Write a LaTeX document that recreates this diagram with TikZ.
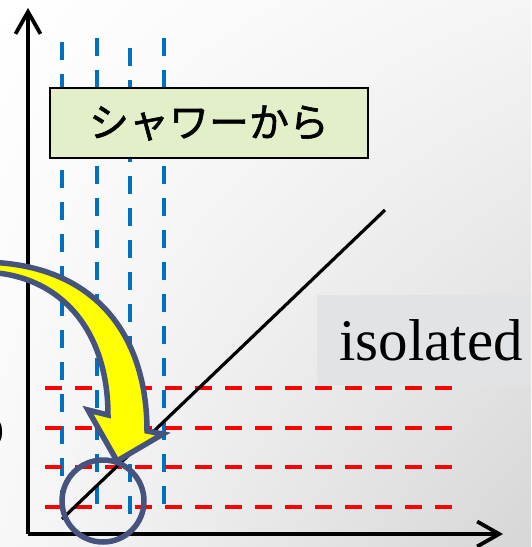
\documentclass[tikz,border=0pt]{standalone}
\usepackage{fontspec}
\setmainfont{Liberation Serif}
\newfontfamily\jpfont[BoldFont={Noto Sans CJK JP},BoldFeatures={FakeBold=1.5}]{Noto Sans CJK JP}
\usetikzlibrary{arrows.meta,shadings}
\definecolor{rainblue}{RGB}{0,112,192}
\definecolor{hotred}{RGB}{255,0,0}
\definecolor{boxgreen}{RGB}{226,239,201}
\definecolor{slateline}{RGB}{68,84,126}
\definecolor{labelgray}{RGB}{225,228,230}
\definecolor{arrowyellow}{RGB}{255,255,0}
\begin{document}
\begin{tikzpicture}[x=1pt,y=-1pt,
  bluedash/.style={rainblue,line width=4.5pt,dash pattern=on 18pt off 14pt},
  reddash/.style={hotred,line width=4.5pt,dash pattern=on 17pt off 13pt},
  axisline/.style={black,line width=3.8pt,-{Straight Barb[length=22pt,width=25pt]}},
  showerbox/.style={draw=black,line width=1.2pt,fill=boxgreen,minimum width=318pt,minimum height=70pt,inner sep=0pt},
  labelbox/.style={fill=labelgray,minimum width=230pt,minimum height=90pt,inner sep=0pt,anchor=north west},
  slateoutline/.style={draw=slateline,line width=5.5pt}]
\useasboundingbox (0,0) rectangle (531,547);
\begin{scope}
\clip (0,0) rectangle (531,547);
\shade[upper left=white,upper right=black!4,lower left=black!3,lower right=black!16] (0,0) rectangle (531,547);
% blue dashed verticals
\coordinate (b1t) at (62,42);  \coordinate (b1b) at (62,515);
\coordinate (b2t) at (97,38);  \coordinate (b2b) at (97,515);
\coordinate (b3t) at (130,48); \coordinate (b3b) at (130,520);
\coordinate (b4t) at (164,38); \coordinate (b4b) at (164,515);
\draw[bluedash] (b1t) -- (b1b);
\draw[bluedash] (b2t) -- (b2b);
\draw[bluedash] (b3t) -- (b3b);
\draw[bluedash] (b4t) -- (b4b);
% red dashed horizontals
\coordinate (r1l) at (45,388); \coordinate (r1r) at (455,388);
\coordinate (r2l) at (45,428); \coordinate (r2r) at (455,428);
\coordinate (r3l) at (45,467); \coordinate (r3r) at (455,467);
\coordinate (r4l) at (45,507); \coordinate (r4r) at (455,507);
\draw[reddash] (r1l) -- (r1r);
\draw[reddash] (r2l) -- (r2r);
\draw[reddash] (r3l) -- (r3r);
\draw[reddash] (r4l) -- (r4r);
% boxes
\node[showerbox] (shower) at (209,123) {\jpfont\bfseries\fontsize{40}{44}\selectfont シャワーから};
\node[labelbox] (iso) at (317,295) {};
\node[anchor=base west,inner sep=0pt] (isotext) at (339,360) {\fontsize{59}{62}\selectfont isolated};
% axes
\coordinate (origin) at (28,534);
\coordinate (ytip) at (28,8);
\coordinate (xtip) at (503,534);
\draw[axisline] (origin) -- (ytip);
\draw[axisline] (origin) -- (xtip);
% diagonal
\coordinate (d1) at (62,519);
\coordinate (d2) at (385,210);
\draw[black,line width=3.2pt] (d1) -- (d2);
% cut-off text fragment
\node[anchor=east,inner sep=0pt] (frag) at (4,432) {\fontsize{34}{36}\selectfont )};
% curved block arrow
\filldraw[fill=arrowyellow,slateoutline,line join=miter]
  (-20,262) .. controls (95,262) and (147,335) .. (147,431)
  -- (163,434) -- (117,461) -- (88,410) -- (108,415)
  .. controls (108,330) and (60,272) .. (-20,272) -- cycle;
% circle
\node[slateoutline,circle,minimum size=82pt,inner sep=0pt] (zoomring) at (103,501) {};
\end{scope}
\end{tikzpicture}
\end{document}
